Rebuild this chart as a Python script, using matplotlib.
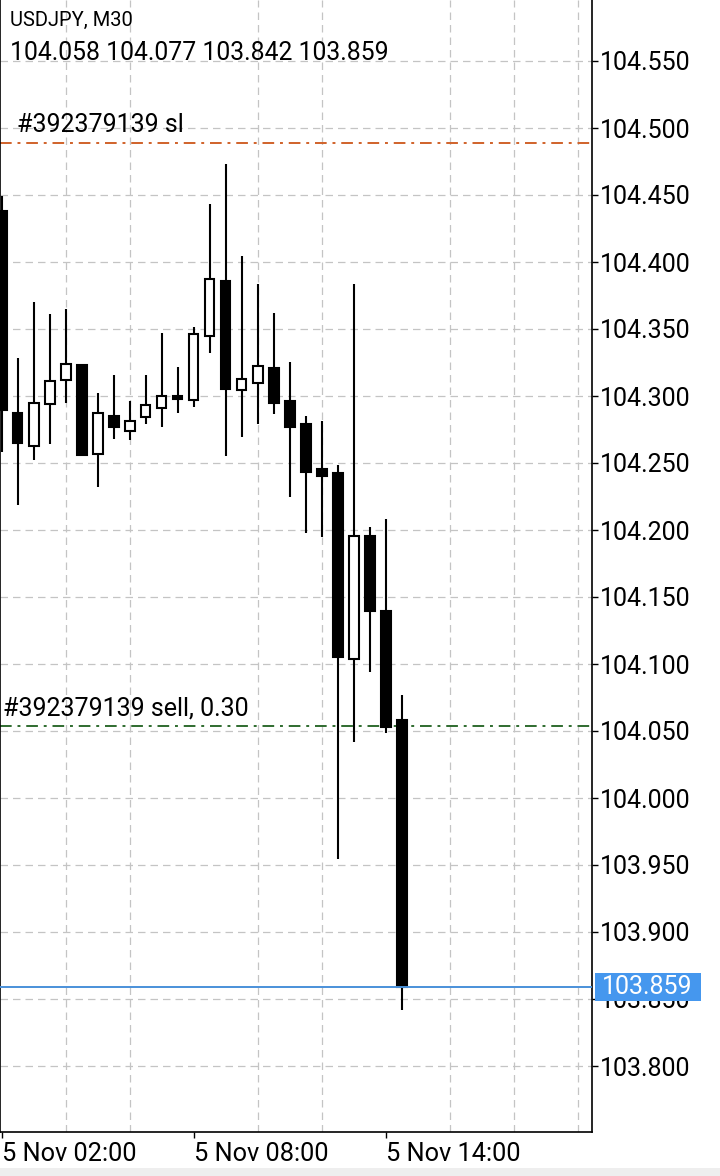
import matplotlib
matplotlib.use("Agg")
import matplotlib.pyplot as plt
from matplotlib.patches import Rectangle
from matplotlib.transforms import blended_transform_factory
from matplotlib.ticker import FixedLocator, FormatStrFormatter

plt.rcParams['font.family'] = ['Roboto', 'DejaVu Sans']

# ---- data (USDJPY M30, 5 Nov, from 02:00) ----
opens  = [104.438, 104.287, 104.263, 104.294, 104.312, 104.323, 104.257, 104.285, 104.274,
          104.284, 104.291, 104.300, 104.297, 104.345, 104.386, 104.3045, 104.3095, 104.321,
          104.296, 104.279, 104.2455, 104.2425, 104.1035, 104.1955, 104.1396, 104.058]
highs  = [104.449, 104.328, 104.370, 104.361, 104.365, 104.323, 104.302, 104.316, 104.296,
          104.316, 104.347, 104.322, 104.3515, 104.443, 104.473, 104.4045, 104.3836, 104.3617,
          104.3254, 104.285, 104.2813, 104.2485, 104.3838, 104.2022, 104.2084, 104.077]
lows   = [104.2584, 104.219, 104.252, 104.264, 104.295, 104.256, 104.232, 104.268, 104.267,
          104.279, 104.277, 104.287, 104.292, 104.332, 104.255, 104.2696, 104.2793, 104.2868,
          104.2249, 104.198, 104.195, 103.9543, 104.042, 104.0943, 104.0483, 103.842]
closes = [104.2896, 104.265, 104.295, 104.311, 104.324, 104.256, 104.287, 104.277, 104.281,
          104.293, 104.300, 104.298, 104.346, 104.387, 104.305, 104.313, 104.3226, 104.2946,
          104.2766, 104.2435, 104.2405, 104.105, 104.1955, 104.1398, 104.0528, 103.859]

x_tick_idx = [0, 12, 24]
x_tick_labels = ["5 Nov 02:00", "5 Nov 08:00", "5 Nov 14:00"]
y_ticks = [103.800, 103.850, 103.900, 103.950, 104.000, 104.050, 104.100, 104.150,
           104.200, 104.250, 104.300, 104.350, 104.400, 104.450, 104.500, 104.550]

symbol_text = "USDJPY, M30"
ohlc_text = "104.058 104.077 103.842 103.859"
sl_price = 104.489
sl_text = "#392379139 sl"
sell_price = 104.054
sell_text = "#392379139 sell, 0.30"
current_price = 103.859

# ---- figure ----
W, H = 720, 1176
fig = plt.figure(figsize=(W / 100, H / 100), dpi=100)
fig.patch.set_facecolor("white")
ax = fig.add_axes([0, 44 / H, 592 / W, 1132 / H])

ax.set_xlim(-1.7 / 16, (592 - 1.7) / 16)
ax.set_ylim(104.45 - 937 / 1340, 104.45 + 195 / 1340)
px_price = 1 / 1340  # price units per pixel

grid_kw = dict(color="#c4c4c4", linestyle=(0, (6, 4)), linewidth=0.9)
ax.xaxis.set_major_locator(FixedLocator(x_tick_idx))
ax.xaxis.set_minor_locator(FixedLocator(list(range(0, 37, 4))))
ax.set_xticklabels(x_tick_labels)
for lab in ax.get_xticklabels():
    lab.set_horizontalalignment("left")
ax.tick_params(axis="x", which="major", direction="out", length=4, width=1,
               labelsize=18.3, pad=3, colors="black")
ax.tick_params(axis="x", which="minor", length=0)
ax.grid(True, axis="x", which="minor", **grid_kw)

ax.yaxis.set_major_locator(FixedLocator(y_ticks))
ax.yaxis.set_major_formatter(FormatStrFormatter("%.3f"))
ax.yaxis.tick_right()
ax.tick_params(axis="y", direction="out", length=4, width=1, labelsize=18, pad=1.5)
ax.grid(True, axis="y", which="major", **grid_kw)
ax.set_axisbelow(True)

for s in ["left", "right", "bottom"]:
    ax.spines[s].set_color("black")
    ax.spines[s].set_linewidth(1.2)
ax.spines["top"].set_visible(False)

# ---- candles ----
bw = 0.6
for i, (o, h, l, c) in enumerate(zip(opens, highs, lows, closes)):
    top, bot = max(o, c), min(o, c)
    if h > top:
        ax.plot([i, i], [top, h], color="black", lw=1.5, solid_capstyle="butt", zorder=3)
    if l < bot:
        ax.plot([i, i], [l, bot], color="black", lw=1.5, solid_capstyle="butt", zorder=3)
    bull = c > o
    hgt = max(top - bot, 0.0006)
    ax.add_patch(Rectangle((i - bw / 2, bot), bw, hgt,
                           facecolor="white" if bull else "black",
                           edgecolor="black", linewidth=1.5, zorder=4))

# ---- order / price lines ----
ax.axhline(sl_price, color="#d0622a", linestyle=(0, (6, 3, 1.5, 3)), linewidth=1.4, zorder=2)
ax.axhline(sell_price, color="#2f6b2f", linestyle=(0, (6, 3, 1.5, 3)), linewidth=1.4, zorder=2)
ax.axhline(current_price, color="#4a90d9", linestyle="-", linewidth=1.4, zorder=5)

tr = blended_transform_factory(ax.transAxes, ax.transData)
ax.annotate(sl_text, xy=(17 / 592, sl_price), xycoords=tr, xytext=(0, 6),
            textcoords="offset pixels", fontsize=18, ha="left", va="bottom")
ax.annotate(sell_text, xy=(3 / 592, sell_price), xycoords=tr, xytext=(0, 5),
            textcoords="offset pixels", fontsize=18, ha="left", va="bottom")

# current price tag on the price scale
ax.add_patch(Rectangle((595 / 592, current_price - 14 * px_price), 106 / 592, 28 * px_price,
                       transform=tr, facecolor="#4597ee", edgecolor="none",
                       clip_on=False, zorder=9))
ax.text(602 / 592, current_price, f"{current_price:.3f}", transform=tr, fontsize=18,
        color="white", ha="left", va="center", clip_on=False, zorder=10)

# ---- header text ----
fig.text(10 / W, 1 - 26 / H, symbol_text, fontsize=14.5, ha="left", va="baseline")
fig.text(10 / W, 1 - 60 / H, ohlc_text, fontsize=17.8, ha="left", va="baseline")

# bottom strip
fig.patches.append(Rectangle((0, 0), 1, 8 / H, transform=fig.transFigure,
                             facecolor="#eeeeee", edgecolor="none"))

fig.savefig("out.png", dpi=100)
